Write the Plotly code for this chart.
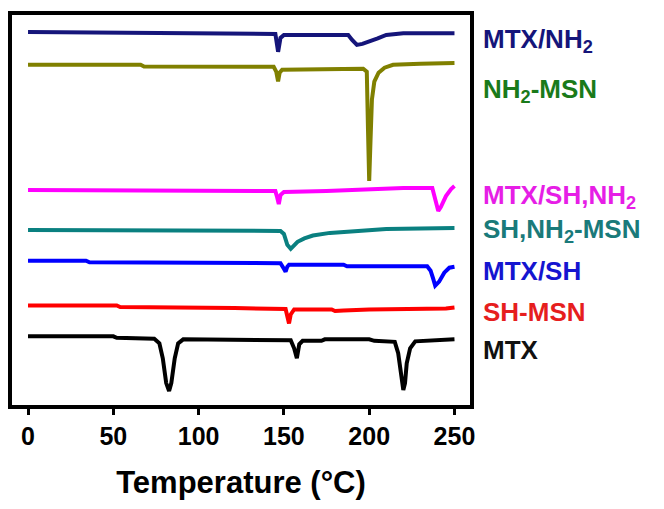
import plotly.graph_objects as go

# Temperature (°C) and heat flow (a.u., offset curves)
t_mtx_nh2 = [0, 140, 145, 146.6, 148, 150, 187.7, 190, 192.8, 196, 200.6, 205, 210, 220, 250]
h_mtx_nh2 = [37.5, 37.4, 37.3, 35.5, 36.9, 37.2, 37.2, 36.7, 36.2, 36.3, 36.53, 36.85, 37.2, 37.37, 37.37]

t_nh2_msn = [0, 66, 68, 144, 145.5, 146.6, 147.5, 149, 196.5, 198.6, 199.3, 200, 200.8, 201.6, 203, 205.5, 209, 214, 230, 250]
h_nh2_msn = [34.2, 34.2, 34.03, 34.0, 33.5, 32.53, 33.4, 33.7, 33.8, 33.5, 27.7, 22.53, 26.7, 30.7, 32.5, 33.4, 33.9, 34.2, 34.3, 34.37]

t_mtx_sh_nh2 = [0, 140, 145, 146, 147, 148, 150, 175, 200, 220, 237, 238.8, 240.5, 242, 245, 248, 250]
h_mtx_sh_nh2 = [21.6, 21.6, 21.5, 20.9, 20.2, 21.1, 21.4, 21.5, 21.7, 21.8, 21.8, 20.7, 19.5, 19.9, 21.0, 21.7, 22.0]

t_sh_nh2_msn = [0, 140, 148, 150, 152, 154, 156, 158, 162, 167, 177, 196, 210, 250]
h_sh_nh2_msn = [17.6, 17.6, 17.5, 17.2, 16.1, 15.7, 16.0, 16.4, 16.75, 17.03, 17.3, 17.53, 17.7, 17.8]

t_mtx_sh = [0, 34, 36, 66, 68, 148, 150, 151, 152, 153, 185, 187, 234, 236, 237.5, 238.7, 241, 244, 247, 250]
h_mtx_sh = [14.5, 14.5, 14.35, 14.35, 14.25, 14.25, 13.7, 13.4, 13.9, 14.1, 14.1, 13.95, 13.95, 13.5, 12.7, 12.0, 12.4, 13.3, 13.8, 13.9]

t_sh_msn = [0, 52, 54, 118, 121, 151, 152, 153, 154, 156, 178, 180, 185, 200, 245, 250]
h_sh_msn = [10.0, 10.0, 9.85, 9.85, 9.75, 9.65, 8.9, 8.2, 9.1, 9.6, 9.6, 9.45, 9.5, 9.6, 9.7, 9.8]

t_mtx = [0, 50, 52, 74, 77, 79, 81, 82.7, 84, 86, 88, 91, 154, 156, 157.6, 159, 161, 172, 174, 200, 203, 215, 217, 219, 220, 221, 222, 224, 227, 250]
h_mtx = [6.9, 6.9, 6.75, 6.65, 6.2, 4.7, 2.2, 1.4, 2.2, 4.7, 6.2, 6.6, 6.5, 5.7, 4.7, 6.1, 6.45, 6.45, 6.6, 6.6, 6.45, 6.35, 5.2, 2.7, 1.5, 2.2, 4.2, 5.7, 6.4, 6.6]

series_names = ["MTX/NH<sub>2</sub>", "NH<sub>2</sub>-MSN", "MTX/SH,NH<sub>2</sub>",
                "SH,NH<sub>2</sub>-MSN", "MTX/SH", "SH-MSN", "MTX"]
label_y = [36.6, 31.6, 21.0, 17.5, 13.5, 9.3, 5.5]

x_ticks = [0, 50, 100, 150, 200, 250]

line_colors = ["#15157a", "#808000", "#ff00ff", "#0a8080", "#0000ff", "#ff0000", "#000000"]
text_colors = ["#15157a", "#1a7a1a", "#e61ee6", "#1a7a7a", "#1515d0", "#e61e1e", "#111111"]

data = [(t_mtx_nh2, h_mtx_nh2), (t_nh2_msn, h_nh2_msn), (t_mtx_sh_nh2, h_mtx_sh_nh2),
        (t_sh_nh2_msn, h_sh_nh2_msn), (t_mtx_sh, h_mtx_sh), (t_sh_msn, h_sh_msn), (t_mtx, h_mtx)]

fig = go.Figure()
for (t, h), name, c in zip(data, series_names, line_colors):
    fig.add_trace(go.Scatter(x=t, y=h, mode="lines", name=name,
                             line=dict(color=c, width=4), showlegend=False))

for name, y, c in zip(series_names, label_y, text_colors):
    fig.add_annotation(x=1.024, xref="paper", y=y, yref="y", text=name,
                       xanchor="left", yanchor="middle", showarrow=False,
                       font=dict(family="Liberation Sans, Arial", size=26, color=c, weight="bold"))

fig.update_layout(
    width=664, height=509,
    margin=dict(l=12, r=194, t=15, b=104),
    paper_bgcolor="white", plot_bgcolor="white",
    font=dict(family="Liberation Sans, Arial", color="black"),
    xaxis=dict(range=[-9.4, 259.1], tickvals=x_ticks, ticks="outside", ticklen=6,
               tickwidth=3, tickcolor="black", showline=True, linewidth=3.5,
               linecolor="black", mirror=True, showgrid=False, zeroline=False,
               tickfont=dict(size=25, weight="bold"),
               title=dict(text="Temperature (\u00b0C)", standoff=24,
                          font=dict(size=31, weight="bold"))),
    yaxis=dict(range=[0, 39.2], showticklabels=False, ticks="", showline=True,
               linewidth=3.5, linecolor="black", mirror=True, showgrid=False,
               zeroline=False),
)

fig.write_html("out.html")
